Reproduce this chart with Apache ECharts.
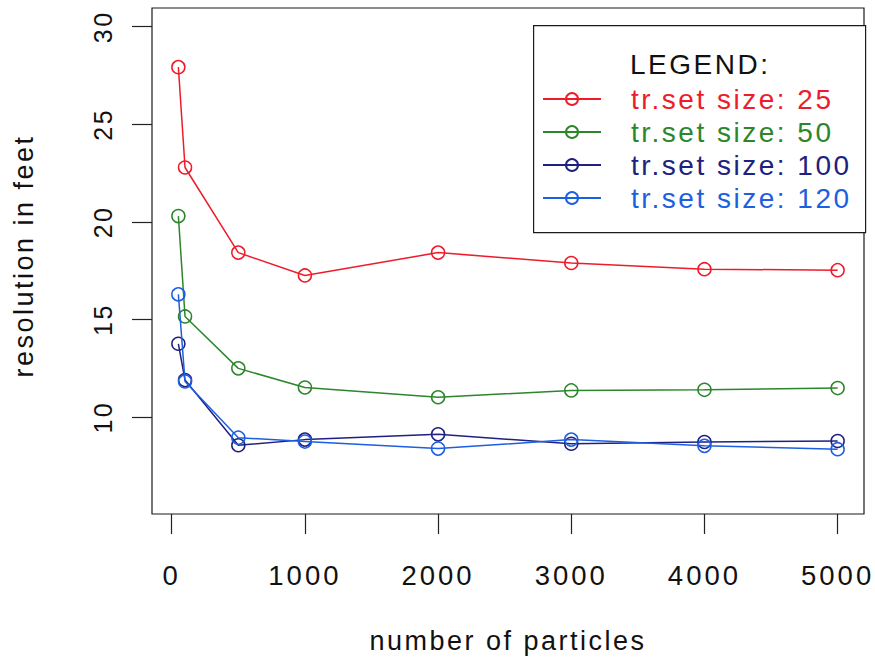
<!DOCTYPE html>
<html>
<head>
<meta charset="utf-8">
<script src="https://cdn.jsdelivr.net/npm/echarts@6/dist/echarts.min.js"></script>
<style>
html,body{margin:0;padding:0;background:#fff;}
#chart{width:875px;height:659px;}
text[style*="25px"]{letter-spacing:2.5px;}
text[style*="27px"]{letter-spacing:2.5px;}
text[style*="27.5px"]{letter-spacing:3px;}
text[style*="28px"]{letter-spacing:2.5px;}
</style>
</head>
<body>
<div id="chart"></div>
<script>
const particles = [50, 100, 500, 1000, 2000, 3000, 4000, 5000];
const size25  = [27.93, 22.79, 18.43, 17.26, 18.43, 17.90, 17.58, 17.53];
const size50  = [20.30, 15.16, 12.50, 11.52, 11.02, 11.37, 11.40, 11.49];
const size100 = [13.76, 11.90, 8.56, 8.85, 9.12, 8.64, 8.73, 8.78];
const size120 = [16.29, 11.83, 8.95, 8.75, 8.39, 8.85, 8.53, 8.36];
const xTicks = [0, 1000, 2000, 3000, 4000, 5000];
const yTicks = [10, 15, 20, 25, 30];
const seriesNames = ['tr.set size: 25', 'tr.set size: 50', 'tr.set size: 100', 'tr.set size: 120'];
const seriesColors = ['#ee1c2a', '#2c862c', '#202080', '#1c5fe0'];
const seriesValues = [size25, size50, size100, size120];

const FONT = '"Liberation Sans", Arial, Helvetica, sans-serif';
const chart = echarts.init(document.getElementById('chart'), null, {renderer: 'svg'});

const series = seriesValues.map((vals, i) => ({
  name: seriesNames[i],
  type: 'line',
  data: particles.map((x, j) => [x, vals[j]]),
  symbol: 'circle',
  symbolSize: 13,
  lineStyle: {color: seriesColors[i], width: 1.5},
  itemStyle: {color: 'rgba(255,255,255,0)', borderColor: seriesColors[i], borderWidth: 1.5},
  emphasis: {disabled: true},
  animation: false,
  z: 2 + i
}));

chart.setOption({
  animation: false,
  backgroundColor: '#fff',
  grid: {left: 152, right: 11, top: 8, bottom: 141, show: true, borderColor: '#1a1a1a', borderWidth: 1.2, backgroundColor: 'transparent'},
  xAxis: {
    type: 'value', min: -148, max: 5198,
    name: 'number of particles', nameLocation: 'middle', nameGap: 113,
    nameTextStyle: {fontFamily: FONT, fontSize: 27, color: '#111'},
    axisLine: {show: false, onZero: false},
    axisTick: {show: true, customValues: xTicks, length: 20, lineStyle: {color: '#222', width: 1.2}},
    axisLabel: {customValues: xTicks, margin: 47, fontFamily: FONT, fontSize: 27.5, color: '#111',
      formatter: v => String(v)},
    splitLine: {show: false}
  },
  yAxis: {
    type: 'value', min: 5.04, max: 30.96,
    name: 'resolution in feet', nameLocation: 'middle', nameGap: 115,
    nameTextStyle: {fontFamily: FONT, fontSize: 27, color: '#111', padding: [0, 0, 0, 10]},
    axisLine: {show: false, onZero: false},
    axisTick: {show: true, customValues: yTicks, length: 20, lineStyle: {color: '#222', width: 1.2}},
    axisLabel: {customValues: yTicks, rotate: 90, margin: 37, fontFamily: FONT, fontSize: 25, color: '#111',
      formatter: v => String(v)},
    splitLine: {show: false}
  },
  title: {
    text: 'LEGEND:', left: 630, top: 50, padding: 0,
    textStyle: {fontFamily: FONT, fontSize: 28, fontWeight: 'normal', color: '#111'}
  },
  graphic: [{
    type: 'rect', left: 533, top: 25, z: 0,
    shape: {width: 332, height: 207},
    style: {fill: '#fff', stroke: '#1a1a1a', lineWidth: 1.2}
  }],
  legend: {
    orient: 'vertical', left: 542, top: 85, padding: 0,
    itemWidth: 58, itemHeight: 15, itemGap: 5,
    selectedMode: false,
    data: seriesNames.map((n, i) => ({name: n, textStyle: {color: seriesColors[i]}})),
    textStyle: {fontFamily: FONT, fontSize: 28, lineHeight: 26, padding: [0, 0, 0, 25]}
  },
  series: series
});
</script>
</body>
</html>
